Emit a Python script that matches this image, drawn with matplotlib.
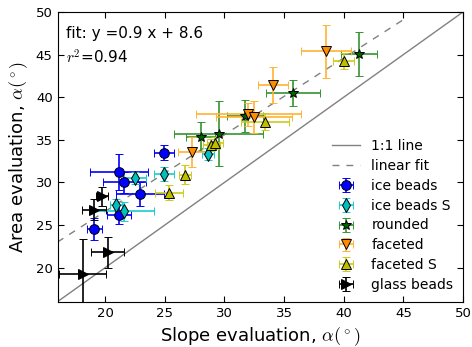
import numpy as np
import matplotlib
matplotlib.use('Agg')
import matplotlib.pyplot as plt

# data: (slope, area, slope err, area err)
ice_x = [24.9, 21.15, 21.6, 22.9, 21.15, 19.1]
ice_y = [33.5, 31.2, 30.0, 28.6, 26.2, 24.5]
ice_xe = [0.85, 2.4, 1.8, 2.0, 1.0, 0.6]
ice_ye = [0.9, 2.1, 1.2, 1.4, 1.1, 1.3]

iceS_x = [22.5, 20.9, 21.6, 24.9, 28.6]
iceS_y = [30.5, 27.4, 26.6, 31.0, 33.3]
iceS_xe = [0.9, 0.5, 2.5, 0.85, 0.5]
iceS_ye = [0.7, 0.6, 1.1, 0.8, 0.7]

rnd_x = [28.0, 29.5, 31.7, 35.75, 41.3]
rnd_y = [35.35, 35.7, 37.8, 40.5, 45.1]
rnd_xe = [1.2, 3.7, 1.5, 2.3, 1.5]
rnd_ye = [1.7, 3.8, 1.9, 1.5, 2.6]

fac_x = [27.3, 32.0, 32.45, 34.1, 38.5]
fac_y = [33.55, 38.0, 37.7, 41.4, 45.4]
fac_xe = [1.2, 4.4, 3.2, 1.25, 2.1]
fac_ye = [1.75, 1.35, 1.9, 2.1, 3.1]

facS_x = [25.35, 26.7, 28.9, 29.2, 33.4, 40.0]
facS_y = [28.8, 30.9, 34.4, 34.6, 37.1, 44.25]
facS_xe = [1.2, 0.5, 0.7, 0.7, 2.0, 0.9]
facS_ye = [0.9, 1.1, 0.7, 0.7, 1.0, 0.95]

gl_x = [18.1, 20.2, 19.05, 19.7]
gl_y = [19.3, 21.8, 26.8, 28.35]
gl_xe = [2.0, 1.35, 1.0, 0.5]
gl_ye = [4.0, 1.8, 1.2, 1.1]

fit_a = 0.9
fit_b = 8.6
r2 = 0.94

plt.rcParams['mathtext.fontset'] = 'cm'
plt.rcParams['xtick.direction'] = 'in'
plt.rcParams['ytick.direction'] = 'in'
plt.rcParams['xtick.top'] = True
plt.rcParams['ytick.right'] = True

fig = plt.figure(figsize=(4.72, 3.47), dpi=100)
ax = fig.add_axes([57.5/472, 1-301.7/347, (463-57.5)/472, (301.7-12)/347])

xx = np.array([16, 50])
ax.plot(xx, xx, color='gray', lw=1, label='1:1 line')
xf = np.array([16, 45.2])
ax.plot(xf, fit_a*xf + fit_b, color='gray', lw=1, ls='--', dashes=(5, 5), label='linear fit')

kw = dict(linestyle='', capsize=3, elinewidth=1.2, capthick=1.0, markersize=7,
          markeredgecolor='k', markeredgewidth=0.7)
ax.errorbar(ice_x, ice_y, xerr=ice_xe, yerr=ice_ye, fmt='o', color='b', ecolor='b', label='ice beads', **kw)
ax.errorbar(iceS_x, iceS_y, xerr=iceS_xe, yerr=iceS_ye, fmt='d', color='c', ecolor=(0.1, 0.8, 0.8), label='ice beads S', **kw)
ax.errorbar(rnd_x, rnd_y, xerr=rnd_xe, yerr=rnd_ye, fmt='*', color='darkgreen', ecolor=(0.2, 0.58, 0.2), label='rounded', **kw)
ax.errorbar(fac_x, fac_y, xerr=fac_xe, yerr=fac_ye, fmt='v', color='darkorange', ecolor=(1.0, 0.7, 0.2), label='faceted', **kw)
ax.errorbar(facS_x, facS_y, xerr=facS_xe, yerr=facS_ye, fmt='^', color='y', ecolor=(0.8, 0.8, 0.1), label='faceted S', **kw)
ax.errorbar(gl_x, gl_y, xerr=gl_xe, yerr=gl_ye, fmt='>', color='k', ecolor='k', label='glass beads', **kw)

ax.text(0.02, 0.91, 'fit: y =%.1f x + %.1f' % (fit_a, fit_b), transform=ax.transAxes, fontsize=11)
ax.text(0.02, 0.82, '$r^2$=%.2f' % r2, transform=ax.transAxes, fontsize=11)

ax.set_xlim(16, 50)
ax.set_ylim(16, 50)
ax.set_xticks([20, 25, 30, 35, 40, 45, 50])
ax.set_yticks([20, 25, 30, 35, 40, 45, 50])
ax.tick_params(labelsize=9.5, length=4)
ax.set_xlabel(r'Slope evaluation, $\alpha(^\circ)$', fontsize=13)
ax.set_ylabel(r'Area evaluation, $\alpha(^\circ)$', fontsize=13)

ax.legend(loc='lower right', frameon=False, fontsize=10, numpoints=1, handlelength=2,
          labelspacing=0.42, borderaxespad=0.3)

plt.savefig('out.png', dpi=100)
